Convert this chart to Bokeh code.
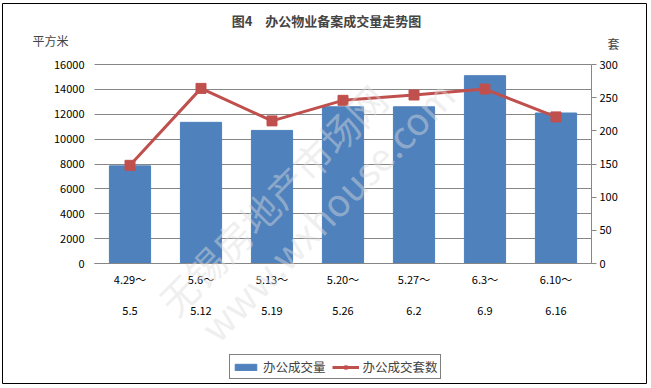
from bokeh.plotting import figure
from bokeh.models import (Range1d, LinearAxis, ColumnDataSource, Legend, LegendItem, Label,
                          FixedTicker, NumeralTickFormatter)
from bokeh.embed import file_html
from bokeh.resources import INLINE

# ---- data ----
period_start = ["4.29～", "5.6～", "5.13～", "5.20～", "5.27～", "6.3～", "6.10～"]
period_end = ["5.5", "5.12", "5.19", "5.26", "6.2", "6.9", "6.16"]
office_area = [7850, 11350, 10700, 12600, 12600, 15100, 12100]   # 平方米
office_units = [148, 264, 215, 246, 254, 263, 221]               # 套
area_ticks = [0, 2000, 4000, 6000, 8000, 10000, 12000, 14000, 16000]
unit_ticks = [0, 50, 100, 150, 200, 250, 300]

title_text = "图4　办公物业备案成交量走势图"
left_unit = "平方米"
right_unit = "套"
series_names = ["办公成交量", "办公成交套数"]
watermark = ["无锡房地产市场网", "www.wxhouse.com"]

FONT = "Noto Sans CJK SC"
BAR = "#4F81BD"
LINE = "#C0504D"
GRID = "#868686"

# ---- layout geometry (pixels) ----
W, H = 651, 388
BOX_L, BOX_R, BOX_T, BOX_B = 2, 646, 3, 383        # outer chart border = plot frame
PLOT_L, PLOT_R, PLOT_T, PLOT_B = 94, 591, 64, 263  # inner plotting area
n = len(period_start)
cat_px = (PLOT_R - PLOT_L) / n
x0_px = PLOT_L + cat_px / 2
x_start = (BOX_L - x0_px) / cat_px
x_end = (BOX_R - x0_px) / cat_px
ymax_l = area_ticks[-1]
ymax_r = unit_ticks[-1]
ppu_l = (PLOT_B - PLOT_T) / ymax_l
ppu_r = (PLOT_B - PLOT_T) / ymax_r
yl = Range1d(-(BOX_B - PLOT_B) / ppu_l, (PLOT_B - BOX_T) / ppu_l)
yr = Range1d(-(BOX_B - PLOT_B) / ppu_r, (PLOT_B - BOX_T) / ppu_r)

idx = list(range(n))
src = ColumnDataSource(dict(x=idx, area=office_area, units=office_units))

p = figure(width=W, height=H, x_range=Range1d(x_start, x_end), y_range=yl,
           output_backend="svg", toolbar_location=None,
           min_border_left=BOX_L, min_border_right=W - BOX_R,
           min_border_top=BOX_T, min_border_bottom=H - BOX_B)
p.extra_y_ranges = {"sets": yr}
p.outline_line_color = "black"
p.outline_line_width = 1
p.background_fill_color = "white"
p.border_fill_color = "white"

# left axis
ya = p.yaxis[0]
ya.fixed_location = -0.5
ya.bounds = (0, ymax_l)
ya.ticker = FixedTicker(ticks=area_ticks)
ya.formatter = NumeralTickFormatter(format="0")
ya.axis_line_color = None
ya.major_tick_line_color = None
ya.major_tick_out = 0
ya.major_tick_in = 0
ya.minor_tick_line_color = None
ya.major_label_text_font = FONT
ya.major_label_text_font_size = "11px"
ya.major_label_text_color = "black"
ya.major_label_standoff = 10

p.ygrid.grid_line_color = GRID
p.xgrid.grid_line_color = None
try:
    p.ygrid.cross_bounds = (-0.5, n - 0.5)
except Exception:
    pass

# right axis
ra = LinearAxis(y_range_name="sets", ticker=FixedTicker(ticks=unit_ticks))
ra.fixed_location = n - 0.5
ra.bounds = (0, ymax_r)
ra.axis_line_color = GRID
ra.major_tick_line_color = GRID
ra.major_tick_in = 0
ra.major_tick_out = 5
ra.minor_tick_line_color = None
ra.major_label_text_font = FONT
ra.major_label_text_font_size = "11px"
ra.major_label_text_color = "black"
ra.major_label_standoff = 3
p.add_layout(ra, "right")

# category axes (two text lines)
def cat_axis(ax, labels, standoff, line):
    ax.fixed_location = 0
    ax.bounds = (-0.5, n - 0.5)
    ax.ticker = FixedTicker(ticks=idx)
    ax.major_label_overrides = dict(zip(idx, labels))
    ax.axis_line_color = GRID if line else None
    ax.major_tick_line_color = None
    ax.major_tick_out = 0
    ax.major_tick_in = 0
    ax.minor_tick_line_color = None
    ax.major_label_text_font = FONT
    ax.major_label_text_font_size = "11px"
    ax.major_label_text_color = "black"
    ax.major_label_standoff = standoff

cat_axis(p.xaxis[0], period_start, 7, True)
xa2 = LinearAxis()
p.add_layout(xa2, "below")
cat_axis(xa2, period_end, 43, False)

# glyphs
bars = p.vbar(x="x", top="area", width=0.58, source=src, fill_color=BAR, line_color=BAR)
ln = p.line(x="x", y="units", source=src, y_range_name="sets", line_color=LINE, line_width=3)
mk = p.scatter(x="x", y="units", source=src, y_range_name="sets", marker="square", size=10,
               fill_color=LINE, line_color=LINE)

def scr(px, py):
    return px - BOX_L, BOX_B - py

# faint watermark
for txt, (px, py), ang in [(watermark[0], (184, 326), 0.79), (watermark[1], (226, 352), 0.80)]:
    sx, sy = scr(px, py)
    p.add_layout(Label(x=sx, y=sy, x_units="screen", y_units="screen", text=txt, angle=ang,
                       text_font=FONT, text_font_size="38px", text_color="#dcdcdc",
                       text_alpha=0.45, level="overlay"))

# title and unit labels
sx, sy = scr(326, 20)
p.add_layout(Label(x=sx, y=sy, x_units="screen", y_units="screen", text=title_text,
                   text_align="center", text_baseline="middle", text_font=FONT,
                   text_font_style="bold", text_font_size="13px"))
sx, sy = scr(32, 40)
p.add_layout(Label(x=sx, y=sy, x_units="screen", y_units="screen", text=left_unit,
                   text_align="left", text_baseline="middle", text_font=FONT,
                   text_font_size="12px"))
sx, sy = scr(613, 43)
p.add_layout(Label(x=sx, y=sy, x_units="screen", y_units="screen", text=right_unit,
                   text_align="center", text_baseline="middle", text_font=FONT,
                   text_font_size="12px"))

# legend
legend = Legend(items=[LegendItem(label=series_names[0], renderers=[bars]),
                       LegendItem(label=series_names[1], renderers=[ln, mk])],
                orientation="horizontal", location=scr(229, 379))
legend.label_text_font = FONT
legend.label_text_font_size = "12.5px"
legend.label_standoff = 4
legend.glyph_width = 27
legend.glyph_height = 8
legend.spacing = 6
legend.padding = 2
legend.margin = 0
legend.border_line_color = "black"
legend.border_line_width = 1
legend.background_fill_color = "white"
legend.background_fill_alpha = 1
p.add_layout(legend, "center")

html = file_html(p, INLINE)
html = html.replace("<head>", "<head><style>body{margin:0}</style>", 1)
open("out.html", "w").write(html)
